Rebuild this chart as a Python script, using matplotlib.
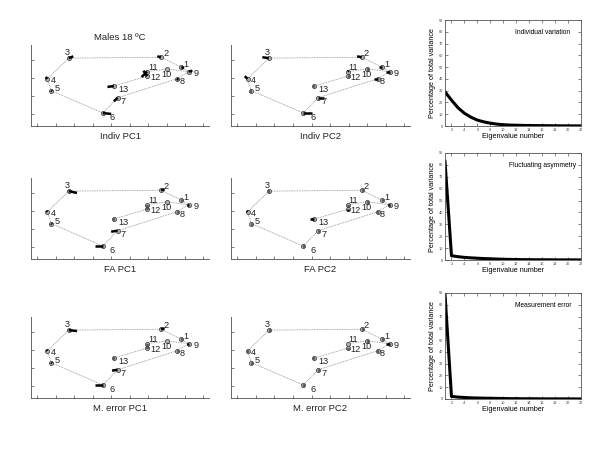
import numpy as np
import matplotlib
matplotlib.use('Agg')
import matplotlib.pyplot as plt

plt.rcParams['font.family'] = ['Liberation Sans', 'DejaVu Sans']

# mean landmark configuration (tick units)
lm_x = [7.8, 6.7, 1.7, 0.55, 0.75, 3.55, 4.35, 7.55, 8.2, 7.0, 5.95, 5.95, 4.15]
lm_y = [2.6, 3.15, 3.1, 1.95, 1.3, 0.05, 0.9, 1.95, 2.35, 2.5, 2.35, 2.1, 1.55]
lm_names = ['1', '2', '3', '4', '5', '6', '7', '8', '9', '10', '11', '12', '13']
links = [(3, 2), (2, 1), (1, 9), (9, 10), (10, 11), (11, 12), (12, 13),
         (9, 8), (8, 7), (7, 6), (6, 5), (5, 4), (4, 3)]

# PC shape change vectors per landmark
indiv_pc1_dx = [0.15, -0.2, 0.25, -0.1, 0.05, 0.45, -0.2, 0.1, 0.2, 0.05, -0.3, -0.2, -0.35]
indiv_pc1_dy = [-0.05, 0.05, 0.1, 0.1, -0.05, -0.05, -0.2, -0.05, 0.05, 0.0, -0.3, 0.3, -0.05]
indiv_pc2_dx = [-0.15, -0.25, -0.35, -0.15, -0.05, 0.45, 0.3, -0.2, -0.2, 0.05, 0.05, 0.05, -0.05]
indiv_pc2_dy = [0.0, 0.05, 0.05, 0.15, 0.0, 0.0, 0.0, 0.0, 0.0, 0.0, 0.05, 0.0, 0.0]
fa_pc1_dx = [0.05, 0.2, 0.45, -0.05, 0.05, -0.45, -0.35, 0.05, -0.1, 0.05, 0.0, 0.0, -0.05]
fa_pc1_dy = [0.0, 0.05, -0.1, 0.05, -0.05, 0.0, -0.05, 0.0, 0.0, 0.0, -0.05, 0.05, 0.0]
fa_pc2_dx = [0.05, 0.05, -0.05, -0.05, 0.05, 0.05, 0.05, -0.05, -0.1, 0.05, 0.0, 0.0, -0.25]
fa_pc2_dy = [0.0, 0.0, 0.0, 0.05, 0.0, 0.0, 0.0, 0.0, 0.0, 0.0, -0.05, -0.1, 0.0]
me_pc1_dx = [0.05, 0.2, 0.45, -0.05, 0.05, -0.45, -0.3, 0.05, -0.1, 0.05, 0.0, 0.0, -0.05]
me_pc1_dy = [0.0, 0.05, -0.05, 0.05, -0.05, 0.0, -0.05, 0.0, 0.0, 0.0, -0.05, 0.05, 0.0]
me_pc2_dx = [0.05, 0.05, 0.05, -0.05, 0.05, 0.05, 0.05, -0.05, -0.2, 0.05, 0.0, 0.0, -0.05]
me_pc2_dy = [0.0, 0.0, 0.0, 0.0, 0.0, 0.0, 0.0, 0.0, 0.0, 0.0, 0.0, -0.05, 0.0]

panel_titles = ['Indiv PC1', 'Indiv PC2', 'FA PC1', 'FA PC2', 'M. error PC1', 'M. error PC2']

# percentage of total variance per eigenvalue
eig_num = list(range(1, 23))
indiv_var = [29, 22, 15.5, 10.8, 7.5, 5.0, 3.5, 2.4, 1.6, 1.1, 0.8, 0.6, 0.5, 0.4,
             0.35, 0.3, 0.25, 0.2, 0.15, 0.12, 0.1, 0.08]
fa_var = [83, 3.6, 2.8, 2.2, 1.8, 1.5, 1.2, 1.0, 0.8, 0.6, 0.5, 0.4, 0.3, 0.3,
          0.2, 0.2, 0.2, 0.1, 0.1, 0.1, 0.1, 0.05]
me_var = [89, 2.2, 1.6, 1.3, 1.0, 0.8, 0.7, 0.6, 0.5, 0.4, 0.3, 0.3, 0.2, 0.2,
          0.2, 0.1, 0.1, 0.1, 0.1, 0.1, 0.05, 0.05]
scree_names = ['Individual variation', 'Fluctuating asymmetry', 'Measurement error']

# label offsets in points (style)
lab_off = [(3.6, 2.0), (3.3, 3.0), (-1.2, 4.2), (4.2, -0.9), (4.2, 1.2), (6.8, -3.0),
           (4.2, -2.4), (3.6, -1.9), (5.0, -1.4), (-0.4, -3.8), (4.0, 3.0), (5.8, -0.9),
           (6.8, -2.4)]

W, H = 600, 450
fig = plt.figure(figsize=(6, 4.5), dpi=100)


def rect(x0, x1, ytop, ybot):
    return [x0 / W, 1 - ybot / H, (x1 - x0) / W, (ybot - ytop) / H]


def shape_panel(ax, dx, dy, label):
    for a, b in links:
        ax.plot([lm_x[a - 1], lm_x[b - 1]], [lm_y[a - 1], lm_y[b - 1]],
                ls=(0, (1, 1)), color='#8a8a8a', lw=0.6)
    ax.plot(lm_x, lm_y, 'o', ms=3, mfc='#b0b0b0', mec='#333333', mew=0.5)
    for i in range(len(lm_x)):
        ax.plot([lm_x[i], lm_x[i] + dx[i]], [lm_y[i], lm_y[i] + dy[i]],
                color='k', lw=1.8, solid_capstyle='butt')
        ax.annotate(lm_names[i], (lm_x[i], lm_y[i]), xytext=lab_off[i],
                    textcoords='offset points', ha='center', va='center',
                    fontsize=6.6, color='#222222')
    ax.set_xlim(-0.34, 9.3)
    ax.set_ylim(-0.67, 3.83)
    ax.set_xticks(range(10))
    ax.set_yticks(range(4))
    ax.set_xticklabels([])
    ax.set_yticklabels([])
    ax.tick_params(direction='in', length=2.5, width=0.6, color='#666666')
    for s in ['top', 'right']:
        ax.spines[s].set_visible(False)
    for s in ['left', 'bottom']:
        ax.spines[s].set_color('#666666')
        ax.spines[s].set_linewidth(0.7)
    ax.set_xlabel(label, fontsize=6.8, labelpad=0.5, color='#222222')


def scree_panel(ax, vals, name):
    ax.plot(eig_num, vals, color='k', lw=2.2)
    ax.set_xlim(1, 22)
    ax.set_ylim(0, 90)
    ax.set_xticks(range(2, 23, 2))
    ax.set_yticks(range(0, 91, 10))
    ax.tick_params(direction='in', top=True, right=True, length=2, width=0.5,
                   labelsize=2.8, pad=1.5, color='#555555', labelcolor='#444444')
    for s in ax.spines.values():
        s.set_linewidth(0.6)
        s.set_color('#555555')
    ax.set_xlabel('Eigenvalue number', fontsize=5.2, labelpad=1)
    ax.set_ylabel('Percentage of total variance', fontsize=5.2, labelpad=1.5)
    ax.text(0.72, 0.88, name, transform=ax.transAxes, ha='center', va='center',
            fontsize=4.8)


col_x = [(31, 209), (231, 410)]
row_y = [(45, 126), (178, 259), (317, 398)]
vecs = [(indiv_pc1_dx, indiv_pc1_dy), (indiv_pc2_dx, indiv_pc2_dy),
        (fa_pc1_dx, fa_pc1_dy), (fa_pc2_dx, fa_pc2_dy),
        (me_pc1_dx, me_pc1_dy), (me_pc2_dx, me_pc2_dy)]

k = 0
for r in range(3):
    for c in range(2):
        ax = fig.add_axes(rect(col_x[c][0], col_x[c][1], row_y[r][0], row_y[r][1]))
        shape_panel(ax, vecs[k][0], vecs[k][1], panel_titles[k])
        if k == 0:
            ax.set_title('Males 18 ºC', fontsize=6.8, pad=3.5, color='#222222')
        k += 1

scree_rows = [(20, 126), (153, 260), (293, 399)]
scree_vals = [indiv_var, fa_var, me_var]
for r in range(3):
    ax = fig.add_axes(rect(445, 581, scree_rows[r][0], scree_rows[r][1]))
    scree_panel(ax, scree_vals[r], scree_names[r])

fig.savefig('out.png', dpi=100)
